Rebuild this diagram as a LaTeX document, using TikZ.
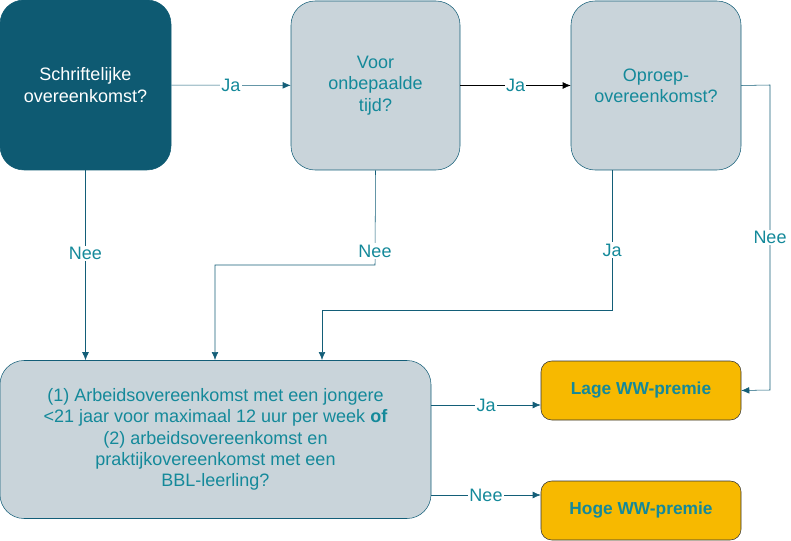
\documentclass[tikz,border=0pt]{standalone}
\usepackage{fontspec}
\setmainfont{Liberation Sans}
\usetikzlibrary{arrows.meta}
\definecolor{darkteal}{HTML}{0E5A72}
\definecolor{tealtxt}{HTML}{14899A}
\definecolor{lightbox}{HTML}{C9D4DA}
\definecolor{linecol}{HTML}{135E78}
\definecolor{orangebox}{HTML}{F7B900}
\tikzset{
  question/.style={draw=linecol, fill=lightbox, rounded corners=18pt, text=tealtxt, align=center, font=\fontsize{13.5}{16}\selectfont, inner sep=0pt},
  result/.style={draw=black!80, fill=orangebox, rounded corners=8pt, text=tealtxt, font=\bfseries\fontsize{13}{15}\selectfont, inner sep=0pt},
  flow/.style={linecol, -{Latex[length=6pt,width=5pt]}},
  lbl/.style={fill=white, text=tealtxt, font=\fontsize{13.5}{16}\selectfont, inner sep=1pt}
}
\begin{document}
\begin{tikzpicture}[x=0.75pt,y=-0.75pt]
    \useasboundingbox (0,0) rectangle (791,541);
    \node[question, fill=darkteal, draw=darkteal, text=white, minimum width=171*0.75pt, minimum height=170*0.75pt] (schrift) at (85.5,85) {Schriftelijke\\overeenkomst?};
    \node[question, minimum width=169*0.75pt, minimum height=169*0.75pt] (onbep) at (375.5,85.5) {Voor\\onbepaalde\\tijd?};
    \node[question, minimum width=170*0.75pt, minimum height=169*0.75pt] (oproep) at (656,85.5) {Oproep-\\overeenkomst?};
    \node[question, minimum width=431*0.75pt, minimum height=158*0.75pt] (voorw) at (215.5,439.5) {(1) Arbeidsovereenkomst met een jongere\\{<}21 jaar voor maximaal 12 uur per week \textbf{of}\\(2) arbeidsovereenkomst en\\praktijkovereenkomst met een\\BBL-leerling?};
    \node[result, minimum width=200*0.75pt, minimum height=59*0.75pt] (lage) at (641,390.5) {Lage WW-premie};
    \node[result, minimum width=200*0.75pt, minimum height=59*0.75pt] (hoge) at (641,510.5) {Hoge WW-premie};

    \coordinate (c1) at (770,85);
    \coordinate (c2) at (770,390);
    \draw[flow] (schrift) -- node[lbl] {Ja} (onbep);
    \draw[flow, black] (onbep) -- node[lbl] {Ja} (oproep);
    \draw[flow] (oproep.east) -- (c1) -- node[lbl] {Nee} (c2) -- (lage.east);
    \draw[flow] (schrift.south) -- node[lbl, pos=0.44] {Nee} (voorw.north -| schrift.south);
    \draw[flow] (onbep.south) -- (375,265) -- (215,265) -- (215,360);
    \node[lbl] (nee2) at (375,251) {Nee};
    \draw[flow] (oproep.south -| 612,0) -- (612,310) -- (322,310) -- (322,360);
    \node[lbl] (ja3) at (612,250) {Ja};
    \draw[flow] (voorw.east |- 0,405) -- node[lbl] {Ja} (lage.west |- 0,405);
    \draw[flow] (voorw.east |- 0,495) -- node[lbl] {Nee} (hoge.west |- 0,495);
\end{tikzpicture}
\end{document}
